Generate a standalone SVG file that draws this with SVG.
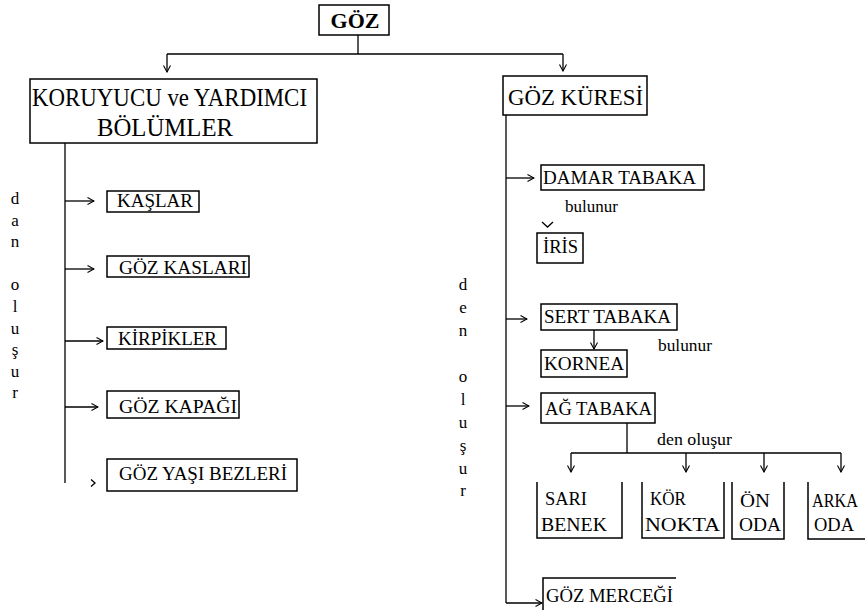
<svg xmlns="http://www.w3.org/2000/svg" width="865" height="610" viewBox="0 0 865 610" font-family="'Liberation Serif', 'DejaVu Serif', serif">
<defs>
<marker id="ah" viewBox="0 0 8 8" refX="7.5" refY="4" markerWidth="8" markerHeight="8" markerUnits="userSpaceOnUse" orient="auto">
<path d="M1,0.5 L7.5,4 L1,7.5" fill="none" stroke="#000" stroke-width="1.1"/>
</marker>
<style>
.box{fill:#fff;stroke:#000;stroke-width:1.5}
.open{fill:none;stroke:#000;stroke-width:1.5}
.ln{fill:none;stroke:#000;stroke-width:1.3}
.ar{fill:none;stroke:#000;stroke-width:1.3;marker-end:url(#ah)}
text{font-family:'Liberation Serif','DejaVu Serif',serif;fill:#000}
.t{font-size:19px}
.s{font-size:17px}
.big{font-size:25px}
.v{font-size:17px;text-anchor:middle}
</style>
</defs>
<rect width="865" height="610" fill="#fff"/>

<g id="connectors">
<path class="ln" d="M358,35 V54 M167,54 H563"/>
<path class="ar" d="M167,54 V72"/>
<path class="ar" d="M563,54 V71"/>
<path class="ln" d="M65,143 V483"/>
<path class="ar" d="M65,201 H94"/>
<path class="ar" d="M65,269 H94"/>
<path class="ar" d="M65,341 H103"/>
<path class="ar" d="M65,407 H98"/>
<path class="ln" d="M91,479.5 L95,483 L91,486.5"/>
<path class="ln" d="M506,115 V603"/>
<path class="ar" d="M506,178 H534"/>
<path class="ln" d="M542,222 L547.5,227 L553,222"/>
<path class="ar" d="M506,319 H527"/>
<path class="ar" d="M594,330 V349"/>
<path class="ar" d="M506,406 H529"/>
<path class="ln" d="M627,423 V453 M571,453 H841"/>
<path class="ar" d="M571,453 V472"/>
<path class="ar" d="M686,453 V472"/>
<path class="ar" d="M764,453 V472"/>
<path class="ar" d="M841,453 V472"/>
<path class="ar" d="M506,603 H542"/>
</g>

<g id="goz">
<rect class="box" x="319" y="5" width="70" height="30"/>
<text x="355" y="28" font-size="22" font-weight="bold" text-anchor="middle">GÖZ</text>
</g>

<g id="koruyucu">
<rect class="box" x="30" y="79" width="287" height="64"/>
<text class="big" x="32" y="106" textLength="275" lengthAdjust="spacingAndGlyphs">KORUYUCU ve YARDIMCI</text>
<text class="big" x="97" y="136" textLength="136" lengthAdjust="spacingAndGlyphs">BÖLÜMLER</text>
</g>

<g id="gozkuresi">
<rect class="box" x="503" y="76" width="144" height="39"/>
<text x="508" y="105" font-size="23" textLength="135" lengthAdjust="spacingAndGlyphs">GÖZ KÜRESİ</text>
</g>

<g id="dan-olusur">
<text class="v" x="15" y="204">d</text>
<text class="v" x="15" y="226">a</text>
<text class="v" x="15" y="247">n</text>
<text class="v" x="15" y="290">o</text>
<text class="v" x="15" y="312">l</text>
<text class="v" x="15" y="334">u</text>
<text class="v" x="15" y="355">ş</text>
<text class="v" x="15" y="377">u</text>
<text class="v" x="15" y="398">r</text>
</g>

<g id="kaslar">
<rect class="box" x="107" y="191" width="92" height="21"/>
<text class="t" x="117" y="207" textLength="76" lengthAdjust="spacingAndGlyphs">KAŞLAR</text>
</g>
<g id="gozkaslari">
<rect class="box" x="107" y="256" width="142" height="21"/>
<text class="t" x="119" y="274" textLength="128" lengthAdjust="spacingAndGlyphs">GÖZ KASLARI</text>
</g>
<g id="kirpikler">
<rect class="box" x="107" y="327" width="119" height="22"/>
<text class="t" x="118" y="345" textLength="99" lengthAdjust="spacingAndGlyphs">KİRPİKLER</text>
</g>
<g id="gozkapagi">
<rect class="box" x="107" y="391" width="132" height="27"/>
<text class="t" x="119" y="413" textLength="118" lengthAdjust="spacingAndGlyphs">GÖZ KAPAĞI</text>
</g>
<g id="gozyasi">
<rect class="box" x="107" y="459" width="190" height="32"/>
<text class="t" x="119" y="480" textLength="168" lengthAdjust="spacingAndGlyphs">GÖZ YAŞI BEZLERİ</text>
</g>

<g id="den-olusur">
<text class="v" x="463" y="290">d</text>
<text class="v" x="463" y="313">e</text>
<text class="v" x="463" y="336">n</text>
<text class="v" x="463" y="382">o</text>
<text class="v" x="463" y="405">l</text>
<text class="v" x="463" y="428">u</text>
<text class="v" x="463" y="451">ş</text>
<text class="v" x="463" y="474">u</text>
<text class="v" x="463" y="496">r</text>
</g>

<g id="damar">
<rect class="box" x="541" y="165" width="163" height="25"/>
<text class="t" x="543" y="184" textLength="153" lengthAdjust="spacingAndGlyphs">DAMAR TABAKA</text>
</g>
<g id="bulunur1">
<text class="s" x="565" y="212" textLength="53" lengthAdjust="spacingAndGlyphs">bulunur</text>
</g>
<g id="iris">
<rect class="box" x="537" y="233" width="46" height="30"/>
<text class="t" x="543" y="253" textLength="35" lengthAdjust="spacingAndGlyphs">İRİS</text>
</g>
<g id="sert">
<rect class="box" x="541" y="304" width="136" height="26"/>
<text class="t" x="544" y="323" textLength="127" lengthAdjust="spacingAndGlyphs">SERT TABAKA</text>
</g>
<g id="bulunur2">
<text class="s" x="658" y="351" textLength="54" lengthAdjust="spacingAndGlyphs">bulunur</text>
</g>
<g id="kornea">
<rect class="box" x="541" y="350" width="86" height="27"/>
<text class="t" x="544" y="370" textLength="80" lengthAdjust="spacingAndGlyphs">KORNEA</text>
</g>
<g id="ag">
<rect class="box" x="541" y="393" width="114" height="30"/>
<text class="t" x="545" y="415" textLength="107" lengthAdjust="spacingAndGlyphs">AĞ TABAKA</text>
</g>
<g id="den-olusur-label">
<text class="s" x="657" y="445" textLength="75" lengthAdjust="spacingAndGlyphs">den oluşur</text>
</g>

<g id="sari">
<path class="open" d="M537,482 V538 H622 V482"/>
<text class="t" x="545" y="505" textLength="42" lengthAdjust="spacingAndGlyphs">SARI</text>
<text class="t" x="541" y="531" textLength="66" lengthAdjust="spacingAndGlyphs">BENEK</text>
</g>
<g id="kor">
<path class="open" d="M642,482 V538 H724 V482"/>
<text class="t" x="650" y="505" textLength="36" lengthAdjust="spacingAndGlyphs">KÖR</text>
<text class="t" x="645" y="531" textLength="75" lengthAdjust="spacingAndGlyphs">NOKTA</text>
</g>
<g id="on">
<path class="open" d="M732,482 V539 H784 V482"/>
<text class="t" x="740" y="507" textLength="30" lengthAdjust="spacingAndGlyphs">ÖN</text>
<text class="t" x="739" y="531" textLength="42" lengthAdjust="spacingAndGlyphs">ODA</text>
</g>
<g id="arka">
<path class="open" d="M808,482 V539 H868"/>
<text class="t" x="812" y="507" textLength="46" lengthAdjust="spacingAndGlyphs">ARKA</text>
<text class="t" x="814" y="531" textLength="40" lengthAdjust="spacingAndGlyphs">ODA</text>
</g>

<g id="mercek">
<path class="open" d="M543,612 V578 H676"/>
<text class="t" x="546" y="602" textLength="127" lengthAdjust="spacingAndGlyphs">GÖZ MERCEĞİ</text>
</g>
</svg>
